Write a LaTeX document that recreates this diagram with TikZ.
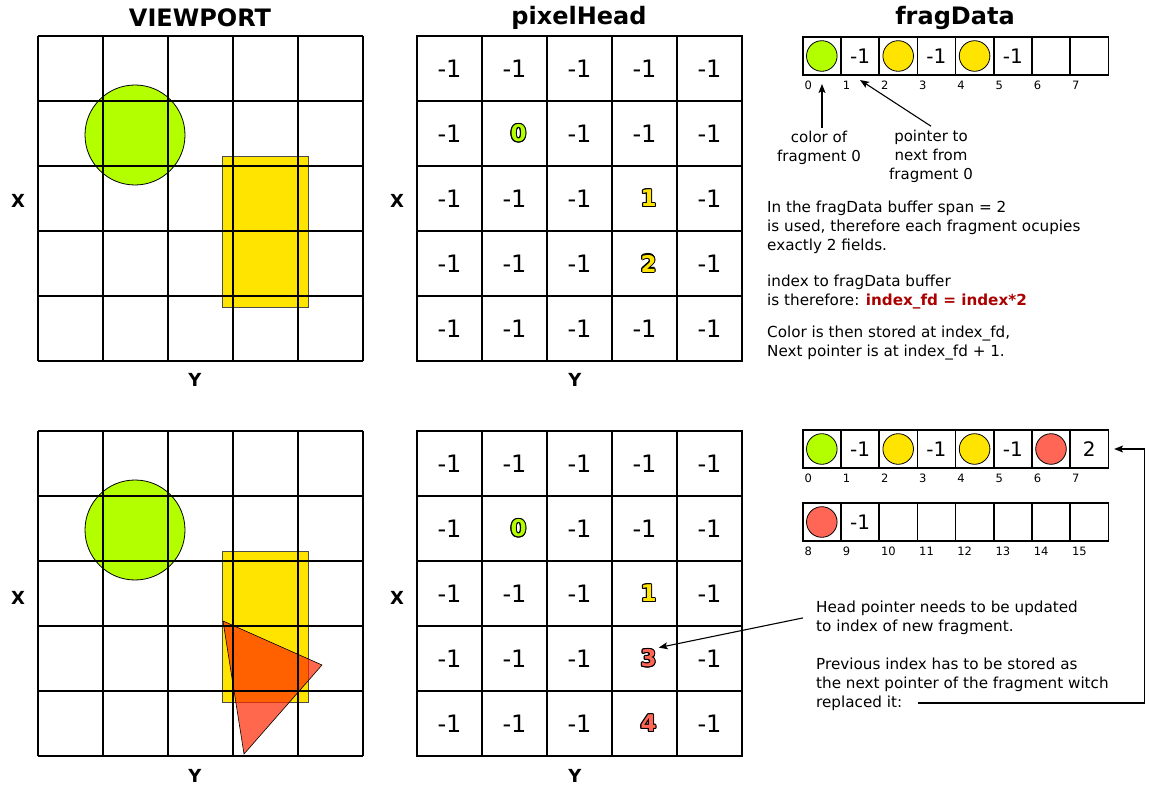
\documentclass[tikz,border=0pt]{standalone}
\usepackage{fontspec}
\setmainfont{DejaVu Sans}
\usetikzlibrary{arrows.meta,positioning}
\usepackage{xcolor}

\definecolor{fgreen}{RGB}{179,255,0}
\definecolor{fyellow}{RGB}{255,228,0}
\definecolor{fred}{RGB}{255,102,85}
\definecolor{ftri}{RGB}{255,40,0}
\definecolor{darkred}{RGB}{170,0,0}

% outlined digit: name, cell, fill colour, digit
\newcommand{\outnum}[4]{%
  \foreach \a in {0,30,...,330}
    \node[num, text=black] (#1s\a) at ([xshift=4pt,shift={(\a:1.1pt)}]#2) {#4};
  \node[num, text=#3] (#1) at ([xshift=4pt]#2) {#4};}

\begin{document}
\begin{tikzpicture}[x=1pt, y=-1pt,
    gridline/.style={line width=1.6pt},
    title/.style={font=\bfseries\fontsize{24}{27}\selectfont},
    axis/.style={font=\bfseries\fontsize{18}{20}\selectfont},
    phcell/.style={draw, line width=1.6pt, minimum size=65pt, inner sep=0pt, font=\fontsize{24}{26}\selectfont},
    num/.style={font=\bfseries\fontsize{23}{25}\selectfont, inner sep=2pt},
    fdcell/.style={draw, line width=1.6pt, minimum size=38.2pt, inner sep=0pt},
    fdval/.style={font=\fontsize{20}{22}\selectfont},
    idx/.style={anchor=west, inner sep=0pt, font=\fontsize{11.5}{13}\selectfont},
    frag/.style={draw, circle, line width=0.8pt, minimum size=30.6pt, inner sep=0pt},
    lbl/.style={align=center, font=\fontsize{15}{19}\selectfont},
    txt/.style={align=left, anchor=north west, inner sep=0pt, font=\fontsize{15.2}{18.7}\selectfont},
    link/.style={line width=1.1pt, -{Stealth[length=9pt,width=7pt,inset=2pt]}},
    >=Stealth
  ]
  \useasboundingbox (0,0) rectangle (1149,791);

  % Titles
  \node[title] (tview) at (200,18) {VIEWPORT};
  \node[title] (thead) at (579,18) {pixelHead};
  \node[title] (tfrag) at (955,18) {fragData};

  % Viewport, top
  \filldraw[fill=fgreen, line width=0.8pt] (135,135) circle (50);
  \filldraw[fill=fyellow, draw=black!70, line width=0.8pt] (222,156) rectangle (308,307);
  \foreach \i in {0,...,5} {
    \draw[gridline] ({38+65*\i},36) -- ++(0,325);
    \draw[gridline] (38,{36+65*\i}) -- ++(325,0);
  }
  \node[axis] (vx1) at (18,201) {X};
  \node[axis] (vy1) at (195,380) {Y};

  % Viewport, bottom
  \filldraw[fill=fgreen, line width=0.8pt] (135,530) circle (50);
  \filldraw[fill=fyellow, draw=black!70, line width=0.8pt] (222,551) rectangle (308,702);
  \filldraw[fill=ftri, fill opacity=0.7, line width=0.6pt] (223,621) -- (322,665) -- (244,754) -- cycle;
  \foreach \i in {0,...,5} {
    \draw[gridline] ({38+65*\i},431) -- ++(0,325);
    \draw[gridline] (38,{431+65*\i}) -- ++(325,0);
  }
  \node[axis] (vx2) at (18,598) {X};
  \node[axis] (vy2) at (195,776) {Y};

  % pixelHead, top
  \foreach \r in {0,...,4}
    \foreach \c in {0,...,4}
      \node[phcell] (pa\r\c) at ({449.5+65*\c},{68.5+65*\r})
        {\ifnum\r\c=11 \else\ifnum\r\c=23 \else\ifnum\r\c=33 \else-1\fi\fi\fi};
  \outnum{na0}{pa11}{fgreen}{0}
  \outnum{na1}{pa23}{fyellow}{1}
  \outnum{na2}{pa33}{fyellow}{2}
  \node[axis] (px1) at (397,201) {X};
  \node[axis] (py1) at (575,380) {Y};

  % pixelHead, bottom
  \foreach \r in {0,...,4}
    \foreach \c in {0,...,4}
      \node[phcell] (pb\r\c) at ({449.5+65*\c},{463.5+65*\r})
        {\ifnum\r\c=11 \else\ifnum\r\c=23 \else\ifnum\r\c=33 \else\ifnum\r\c=43 \else-1\fi\fi\fi\fi};
  \outnum{nb0}{pb11}{fgreen}{0}
  \outnum{nb1}{pb23}{fyellow}{1}
  \outnum{nb3}{pb33}{fred}{3}
  \outnum{nb4}{pb43}{fred}{4}
  \node[axis] (px2) at (397,598) {X};
  \node[axis] (py2) at (575,776) {Y};

  % fragData, top
  \foreach \i in {0,...,7} {
    \node[fdcell] (fdA\i) at ({821.8+38.2*\i},56) {};
    \node[idx] (ixA\i) at ([xshift=2.5pt,yshift=-9pt]fdA\i.south west) {\i};
  }
  \foreach \i in {1,3,5}
    \node[fdval] (vA\i) at (fdA\i) {-1};
  \node[frag, fill=fgreen] (cA0) at (fdA0) {};
  \node[frag, fill=fyellow] (cA2) at (fdA2) {};
  \node[frag, fill=fyellow] (cA4) at (fdA4) {};

  \node[lbl] (lblcol) at (819,148) {color of\\fragment 0};
  \node[lbl] (lblptr) at (931,156) {pointer to\\next from\\fragment 0};
  \coordinate (tipcol) at (822,84);
  \coordinate (tipptr) at (860,80);
  \draw[link] (lblcol.north -| tipcol) -- (tipcol);
  \draw[link] (lblptr.north) -- (tipptr);

  \node[txt] (span) at (767,201) {In the fragData buffer span = 2\\is used, therefore each fragment ocupies\\exactly 2 fields.};
  \node[txt] (idxfd) at (767,275) {index to fragData buffer\\is therefore: {\color{darkred}\bfseries index\_fd = index*2}};
  \node[txt] (store) at (767,326) {Color is then stored at index\_fd,\\Next pointer is at index\_fd + 1.};

  % fragData, bottom
  \foreach \i in {0,...,7} {
    \node[fdcell] (fdB\i) at ({821.8+38.2*\i},449) {};
    \node[idx] (ixB\i) at ([xshift=2.5pt,yshift=-9pt]fdB\i.south west) {\i};
  }
  \foreach \i in {8,...,15} {
    \node[fdcell] (fdC\i) at ({821.8+38.2*(\i-8)},522) {};
    \node[idx] (ixC\i) at ([xshift=2.5pt,yshift=-9pt]fdC\i.south west) {\i};
  }
  \foreach \i in {1,3,5}
    \node[fdval] (vB\i) at (fdB\i) {-1};
  \node[fdval] (vB7) at (fdB7) {2};
  \node[fdval] (vC9) at (fdC9) {-1};
  \node[frag, fill=fgreen] (cB0) at (fdB0) {};
  \node[frag, fill=fyellow] (cB2) at (fdB2) {};
  \node[frag, fill=fyellow] (cB4) at (fdB4) {};
  \node[frag, fill=fred] (cB6) at (fdB6) {};
  \node[frag, fill=fred] (cC8) at (fdC8) {};

  \node[txt] (headtxt) at (816,601) {Head pointer needs to be updated\\to index of new fragment.};
  \node[txt] (prevtxt) at (816,658) {Previous index has to be stored as\\the next pointer of the fragment witch\\replaced it:};
  \coordinate (repl) at (918,703);
  \draw[link] ([xshift=-13pt]headtxt.west) -- (nb3.north east);
  \draw[link] (repl) -| ([xshift=35pt]fdB7.east) -- ([xshift=5pt]fdB7.east);
\end{tikzpicture}
\end{document}
